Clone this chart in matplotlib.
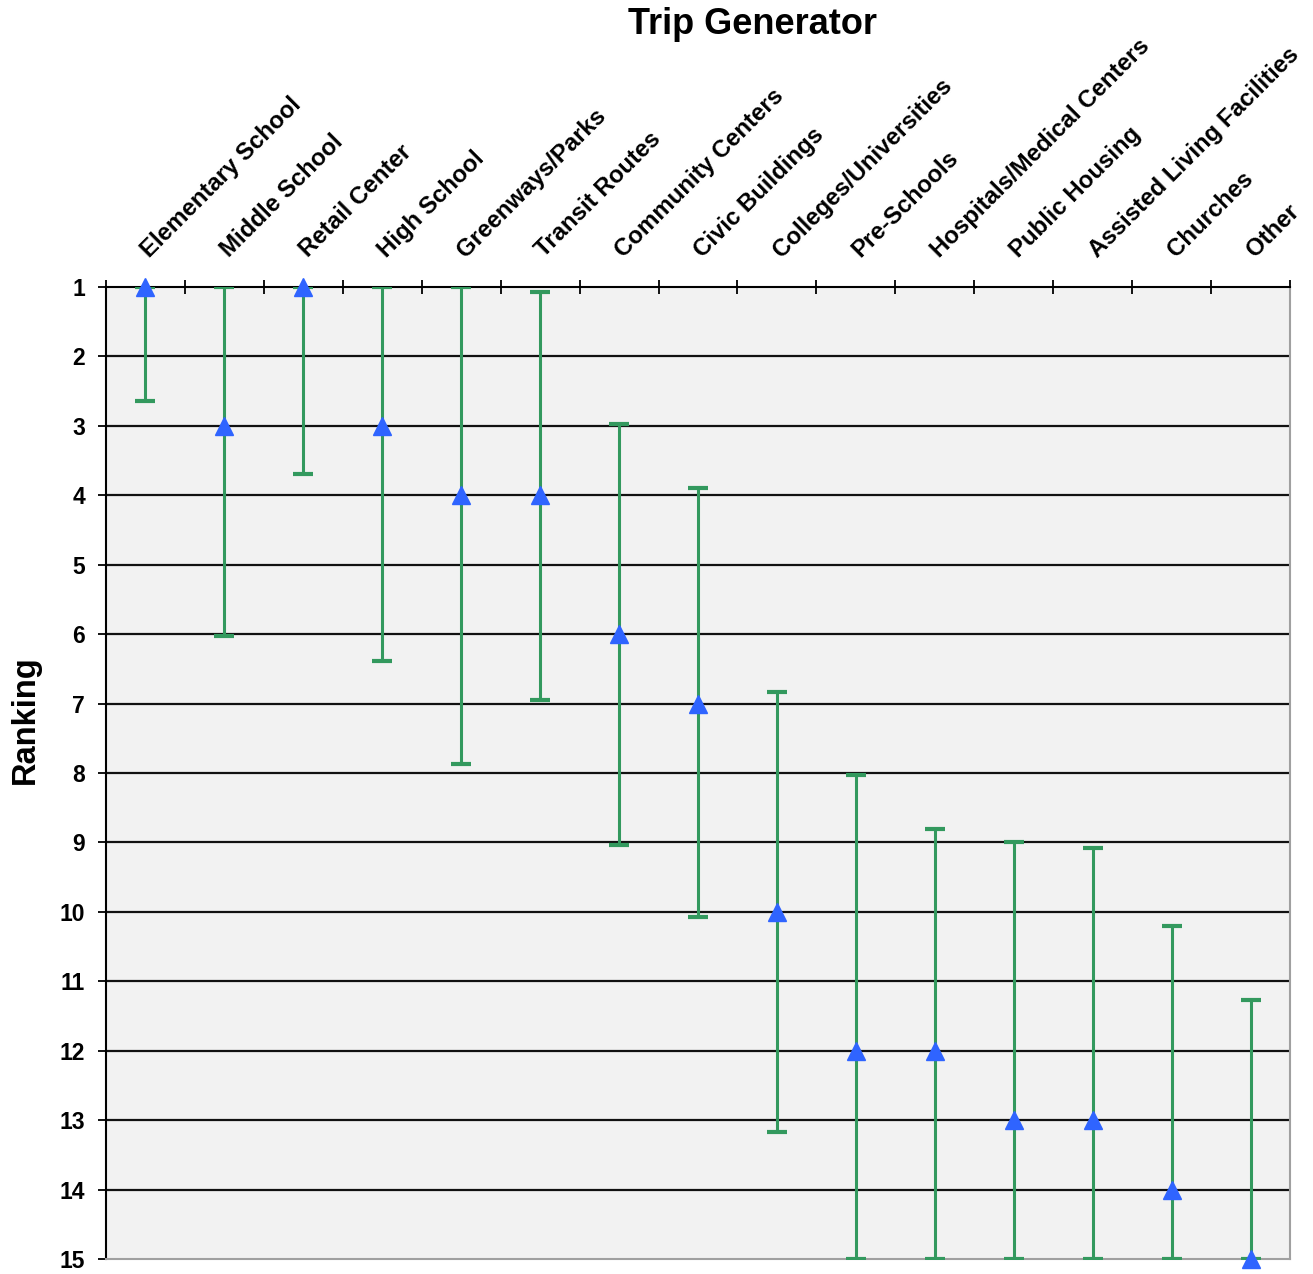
import matplotlib
matplotlib.use("Agg")
import matplotlib.pyplot as plt
import numpy as np

plt.rcParams['font.family'] = ['Liberation Sans', 'DejaVu Sans']

categories = ["Elementary School", "Middle School", "Retail Center", "High School",
              "Greenways/Parks", "Transit Routes", "Community Centers", "Civic Buildings",
              "Colleges/Universities", "Pre-Schools", "Hospitals/Medical Centers",
              "Public Housing", "Assisted Living Facilities", "Churches", "Other"]
median_rank = [1, 3, 1, 3, 4, 4, 6, 7, 10, 12, 12, 13, 13, 14, 15]
low_rank = [1, 1, 1, 1, 1, 1.07, 2.97, 3.9, 6.84, 8.03, 8.81, 9.0, 9.08, 10.21, 11.27]
high_rank = [2.64, 6.03, 3.69, 6.38, 7.87, 6.95, 9.03, 10.08, 13.17, 15, 15, 15, 15, 15, 15]
rank_ticks = list(range(1, 16))

fig = plt.figure(figsize=(13.13, 12.74), dpi=100)
ax = fig.add_axes([106 / 1313, 1 - 1259 / 1274, (1290 - 106) / 1313, (1259 - 287) / 1274])
ax.set_facecolor("#f2f2f2")

x = np.arange(len(categories))
med = np.array(median_rank)
yerr = np.vstack([med - np.array(low_rank), np.array(high_rank) - med])

ax.errorbar(x, med, yerr=yerr, fmt="none", ecolor="#33995e", elinewidth=2.2,
            capsize=7, capthick=3, zorder=3)
ax.plot(x, med, linestyle="none", marker="^", markersize=13, color="#2f64ff",
        markeredgecolor="#2f64ff", zorder=4, clip_on=False)

ax.set_xlim(-0.5, len(categories) - 0.5)
ax.set_ylim(15, 1)
ax.set_yticks(rank_ticks)
ax.set_yticklabels([str(v) for v in rank_ticks], fontsize=16.5, fontweight="bold")
for v in rank_ticks[1:-1]:
    ax.axhline(v, color="#111111", linewidth=1.6, zorder=1)

# category boundary ticks along the top edge
ax.set_xticks(np.arange(-0.5, len(categories), 1.0), minor=False)
ax.set_xticklabels([])
ax.xaxis.set_ticks_position("top")
ax.tick_params(axis="x", which="major", direction="inout", length=10, width=1.3, color="black")
ax.tick_params(axis="y", which="major", direction="out", length=6, width=1.3, color="black", pad=9)

for xi, name in zip(x, categories):
    ax.text(xi + 0.1, 1 - 0.36, name, rotation=45, rotation_mode="anchor",
            ha="left", va="bottom", fontsize=17.3, fontweight="bold")

for side in ("top", "left"):
    ax.spines[side].set_color("black")
    ax.spines[side].set_linewidth(1.5)
for side in ("right", "bottom"):
    ax.spines[side].set_color("#a0a0a0")
    ax.spines[side].set_linewidth(1.5)

fig.text(752 / 1313, 1 - 25 / 1274, "Trip Generator", ha="center", va="center",
         fontsize=26, fontweight="bold")
fig.text(25 / 1313, 1 - 720 / 1274, "Ranking", rotation=90, ha="center", va="center",
         fontsize=23.5, fontweight="bold")

fig.savefig("out.png", dpi=100)
